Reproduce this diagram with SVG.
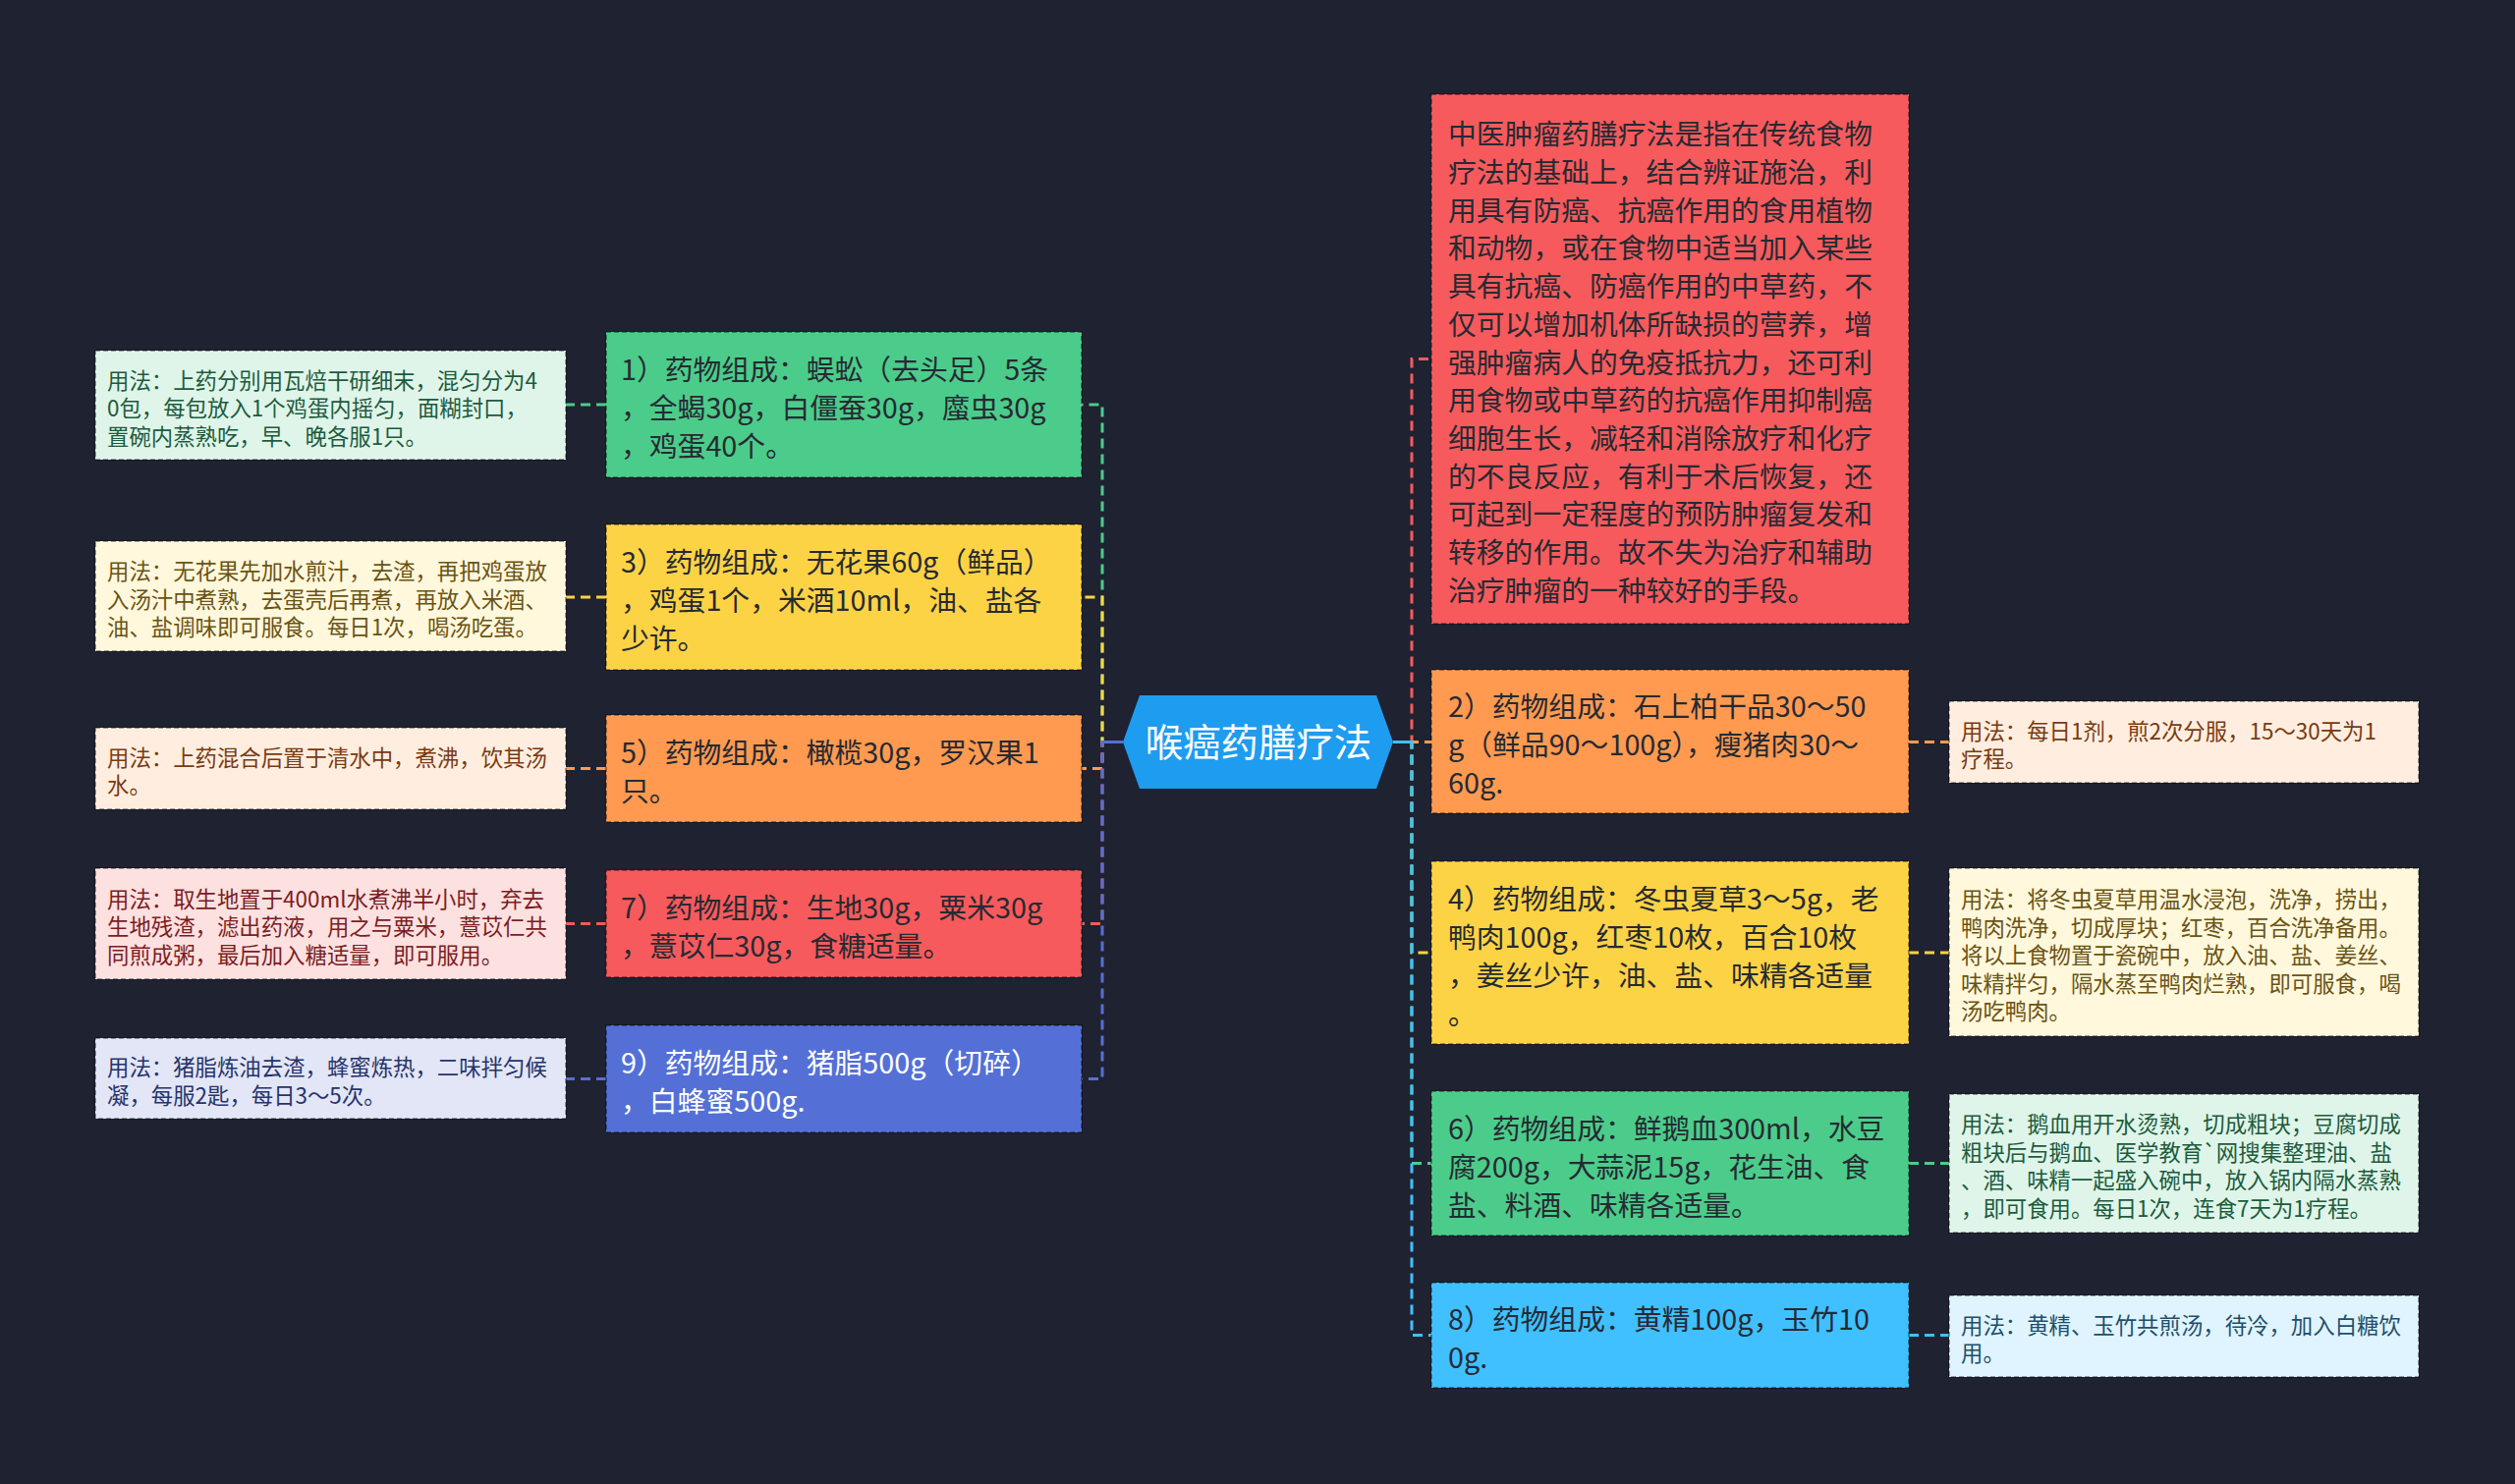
<svg xmlns="http://www.w3.org/2000/svg" width="2560" height="1511" viewBox="0 0 2560 1511">
<style>
text{font-family:"Noto Sans CJK SC","Microsoft YaHei",sans-serif;}
.m{font-size:28.8px;fill:#262a33;}
.mw{font-size:28.8px;fill:#ffffff;}
.u{font-size:22.4px;}
.c{font-size:38.4px;fill:#ffffff;}
.bx{stroke:#000;stroke-opacity:0.45;stroke-width:1.6;stroke-dasharray:5 3;}
.ln{fill:none;stroke-width:3;stroke-dasharray:10 6;}
.sl{fill:none;stroke-width:3;}
</style>
<rect x="0" y="0" width="2560" height="1511" fill="#1f2230"/>
<g id="connectors">
<path class="ln" stroke="#4ccc8a" d="M1143,755.5 H1122 V412 H1101"/>
<path class="ln" stroke="#fdd346" d="M1143,755.5 H1122 V608 H1101"/>
<path class="ln" stroke="#ff9a50" d="M1143,755.5 H1122 V782.5 H1101"/>
<path class="ln" stroke="#f65a5c" d="M1143,755.5 H1122 V940.5 H1101"/>
<path class="ln" stroke="#5470d6" d="M1143,755.5 H1122 V1098.5 H1101"/>
<path class="sl" stroke="#5470d6" d="M1143,755.5 H1122"/>
<path class="ln" stroke="#f65a5c" d="M1418,755.5 H1437 V365.5 H1457"/>
<path class="ln" stroke="#ff9a50" d="M1418,755.5 H1457"/>
<path class="ln" stroke="#fdd346" d="M1418,755.5 H1437 V970 H1457"/>
<path class="ln" stroke="#4ccc8a" d="M1418,755.5 H1437 V1184.5 H1457"/>
<path class="ln" stroke="#40c0ff" d="M1418,755.5 H1437 V1359.5 H1457"/>
<path class="sl" stroke="#40c0ff" d="M1418,755.5 H1437"/>
<path class="ln" stroke="#4ccc8a" d="M617,412 H576"/>
<path class="ln" stroke="#fdd346" d="M617,608 H576"/>
<path class="ln" stroke="#ff9a50" d="M617,782.5 H576"/>
<path class="ln" stroke="#f65a5c" d="M617,940.5 H576"/>
<path class="ln" stroke="#5470d6" d="M617,1098.5 H576"/>
<path class="ln" stroke="#ff9a50" d="M1943,755.5 H1984"/>
<path class="ln" stroke="#fdd346" d="M1943,970 H1984"/>
<path class="ln" stroke="#4ccc8a" d="M1943,1184.5 H1984"/>
<path class="ln" stroke="#40c0ff" d="M1943,1359.5 H1984"/>
</g>
<g id="center">
<polygon points="1160,708 1401,708 1418,755.5 1401,803 1160,803 1143,755.5" fill="#1e9cf0"/>
<text class="c" x="1281" y="770" text-anchor="middle">喉癌药膳疗法</text>
</g>
<g id="n1">
<rect class="bx" x="617" y="338" width="484" height="148" fill="#4ccc8a"/>
<text class="m"><tspan x="632" y="387">1）药物组成：蜈蚣（去头足）5条</tspan><tspan x="632" y="426">，全蝎30g，白僵蚕30g，䗪虫30g</tspan><tspan x="632" y="465">，鸡蛋40个。</tspan></text>
</g>
<g id="n3">
<rect class="bx" x="617" y="534" width="484" height="148" fill="#fdd346"/>
<text class="m"><tspan x="632" y="583">3）药物组成：无花果60g（鲜品）</tspan><tspan x="632" y="622">，鸡蛋1个，米酒10ml，油、盐各</tspan><tspan x="632" y="661">少许。</tspan></text>
</g>
<g id="n5">
<rect class="bx" x="617" y="728" width="484" height="109" fill="#ff9a50"/>
<text class="m"><tspan x="632" y="777">5）药物组成：橄榄30g，罗汉果1</tspan><tspan x="632" y="816">只。</tspan></text>
</g>
<g id="n7">
<rect class="bx" x="617" y="886" width="484" height="109" fill="#f65a5c"/>
<text class="m"><tspan x="632" y="935">7）药物组成：生地30g，粟米30g</tspan><tspan x="632" y="974">，薏苡仁30g，食糖适量。</tspan></text>
</g>
<g id="n9">
<rect class="bx" x="617" y="1044" width="484" height="109" fill="#5470d6"/>
<text class="mw"><tspan x="632" y="1093">9）药物组成：猪脂500g（切碎）</tspan><tspan x="632" y="1132">，白蜂蜜500g.</tspan></text>
</g>
<g id="u1">
<rect class="bx" x="97" y="357" width="479" height="111" fill="#dff5ea"/>
<text class="u" fill="#1d5b3c"><tspan x="109" y="395.5">用法：上药分别用瓦焙干研细末，混匀分为4</tspan><tspan x="109" y="424">0包，每包放入1个鸡蛋内摇匀，面糊封口，</tspan><tspan x="109" y="452.5">置碗内蒸熟吃，早、晚各服1只。</tspan></text>
</g>
<g id="u3">
<rect class="bx" x="97" y="551" width="479" height="112" fill="#fff8dc"/>
<text class="u" fill="#6b5313"><tspan x="109" y="590">用法：无花果先加水煎汁，去渣，再把鸡蛋放</tspan><tspan x="109" y="618.5">入汤汁中煮熟，去蛋壳后再煮，再放入米酒、</tspan><tspan x="109" y="647">油、盐调味即可服食。每日1次，喝汤吃蛋。</tspan></text>
</g>
<g id="u5">
<rect class="bx" x="97" y="741" width="479" height="83" fill="#ffeee0"/>
<text class="u" fill="#7a3a10"><tspan x="109" y="779.5">用法：上药混合后置于清水中，煮沸，饮其汤</tspan><tspan x="109" y="808">水。</tspan></text>
</g>
<g id="u7">
<rect class="bx" x="97" y="884" width="479" height="113" fill="#fde0e0"/>
<text class="u" fill="#7b1d1e"><tspan x="109" y="923.5">用法：取生地置于400ml水煮沸半小时，弃去</tspan><tspan x="109" y="952">生地残渣，滤出药液，用之与粟米，薏苡仁共</tspan><tspan x="109" y="980.5">同煎成粥，最后加入糖适量，即可服用。</tspan></text>
</g>
<g id="u9">
<rect class="bx" x="97" y="1057" width="479" height="82" fill="#e2e6f7"/>
<text class="u" fill="#27336b"><tspan x="109" y="1095">用法：猪脂炼油去渣，蜂蜜炼热，二味拌匀候</tspan><tspan x="109" y="1123.5">凝，每服2匙，每日3～5次。</tspan></text>
</g>
<g id="nr">
<rect class="bx" x="1457" y="96" width="486" height="539" fill="#f65a5c"/>
<text class="m"><tspan x="1474" y="147.3">中医肿瘤药膳疗法是指在传统食物</tspan><tspan x="1474" y="186">疗法的基础上，结合辨证施治，利</tspan><tspan x="1474" y="224.7">用具有防癌、抗癌作用的食用植物</tspan><tspan x="1474" y="263.4">和动物，或在食物中适当加入某些</tspan><tspan x="1474" y="302.1">具有抗癌、防癌作用的中草药，不</tspan><tspan x="1474" y="340.8">仅可以增加机体所缺损的营养，增</tspan><tspan x="1474" y="379.5">强肿瘤病人的免疫抵抗力，还可利</tspan><tspan x="1474" y="418.2">用食物或中草药的抗癌作用抑制癌</tspan><tspan x="1474" y="456.9">细胞生长，减轻和消除放疗和化疗</tspan><tspan x="1474" y="495.6">的不良反应，有利于术后恢复，还</tspan><tspan x="1474" y="534.3">可起到一定程度的预防肿瘤复发和</tspan><tspan x="1474" y="573">转移的作用。故不失为治疗和辅助</tspan><tspan x="1474" y="611.7">治疗肿瘤的一种较好的手段。</tspan></text>
</g>
<g id="n2">
<rect class="bx" x="1457" y="682" width="486" height="146" fill="#ff9a50"/>
<text class="m"><tspan x="1474" y="730">2）药物组成：石上柏干品30～50</tspan><tspan x="1474" y="769">g（鲜品90～100g），瘦猪肉30～</tspan><tspan x="1474" y="808">60g.</tspan></text>
</g>
<g id="n4">
<rect class="bx" x="1457" y="877" width="486" height="186" fill="#fdd346"/>
<text class="m"><tspan x="1474" y="925.5">4）药物组成：冬虫夏草3～5g，老</tspan><tspan x="1474" y="964.5">鸭肉100g，红枣10枚，百合10枚</tspan><tspan x="1474" y="1003.5">，姜丝少许，油、盐、味精各适量</tspan><tspan x="1474" y="1042.5">。</tspan></text>
</g>
<g id="n6">
<rect class="bx" x="1457" y="1111" width="486" height="147" fill="#4ccc8a"/>
<text class="m"><tspan x="1474" y="1159.5">6）药物组成：鲜鹅血300ml，水豆</tspan><tspan x="1474" y="1198.5">腐200g，大蒜泥15g，花生油、食</tspan><tspan x="1474" y="1237.5">盐、料酒、味精各适量。</tspan></text>
</g>
<g id="n8">
<rect class="bx" x="1457" y="1306" width="486" height="107" fill="#40c0ff"/>
<text class="m"><tspan x="1474" y="1354">8）药物组成：黄精100g，玉竹10</tspan><tspan x="1474" y="1393">0g.</tspan></text>
</g>
<g id="u2">
<rect class="bx" x="1984" y="714" width="478" height="83" fill="#ffeee0"/>
<text class="u" fill="#7a3a10"><tspan x="1996" y="752.75">用法：每日1剂，煎2次分服，15～30天为1</tspan><tspan x="1996" y="781.25">疗程。</tspan></text>
</g>
<g id="u4">
<rect class="bx" x="1984" y="884" width="478" height="171" fill="#fff8dc"/>
<text class="u" fill="#6b5313"><tspan x="1996" y="924">用法：将冬虫夏草用温水浸泡，洗净，捞出，</tspan><tspan x="1996" y="952.5">鸭肉洗净，切成厚块；红枣，百合洗净备用。</tspan><tspan x="1996" y="981">将以上食物置于瓷碗中，放入油、盐、姜丝、</tspan><tspan x="1996" y="1009.5">味精拌匀，隔水蒸至鸭肉烂熟，即可服食，喝</tspan><tspan x="1996" y="1038">汤吃鸭肉。</tspan></text>
</g>
<g id="u6">
<rect class="bx" x="1984" y="1114" width="478" height="141" fill="#dff5ea"/>
<text class="u" fill="#1d5b3c"><tspan x="1996" y="1153.25">用法：鹅血用开水烫熟，切成粗块；豆腐切成</tspan><tspan x="1996" y="1181.75">粗块后与鹅血、医学教育`网搜集整理油、盐</tspan><tspan x="1996" y="1210.25">、酒、味精一起盛入碗中，放入锅内隔水蒸熟</tspan><tspan x="1996" y="1238.75">，即可食用。每日1次，连食7天为1疗程。</tspan></text>
</g>
<g id="u8">
<rect class="bx" x="1984" y="1319" width="478" height="83" fill="#dff4ff"/>
<text class="u" fill="#1d4f6b"><tspan x="1996" y="1357.75">用法：黄精、玉竹共煎汤，待冷，加入白糖饮</tspan><tspan x="1996" y="1386.25">用。</tspan></text>
</g>
</svg>
